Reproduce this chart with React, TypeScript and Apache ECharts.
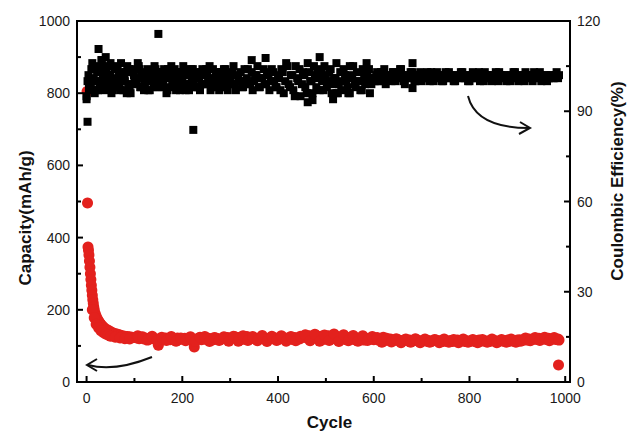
import React, { useEffect, useRef } from "react";
import * as echarts from "echarts";

// ---- Axis ranges and ticks ----
const xMin = -20;
const xMax = 1010;
const capMin = 0;
const capMax = 1000;
const ceMin = 0;
const ceMax = 120;
const xMajorTicks = [0, 200, 400, 600, 800, 1000];
const xMinorTicks = [100, 300, 500, 700, 900];
const capMajorTicks = [0, 200, 400, 600, 800, 1000];
const capMinorTicks = [100, 300, 500, 700, 900];
const ceMajorTicks = [0, 30, 60, 90, 120];
const ceMinorTicks = [15, 45, 75, 105];

// ---- Capacity (mAh/g) ----
const capEarlyCycles = [1, 2, 3, 4, 5, 6, 7, 8, 9, 10, 11, 12, 13, 14, 15, 16, 18, 20, 22, 24, 26, 28, 30, 33, 36, 40, 44, 48, 52, 56, 60, 65, 70, 75, 80, 85, 90, 95, 100];
const capEarly = [805, 496, 374, 365, 352, 335, 318, 300, 284, 268, 254, 240, 228, 218, 208, 200, 190, 182, 176, 171, 167, 163, 159, 155, 151, 147, 144, 141, 138, 136, 134, 132, 130, 128, 127, 126, 125, 124, 123];
const capEarly2Cycles = [12, 16, 20, 25, 30, 35, 40, 45, 50, 60, 70, 80, 90];
const capEarly2 = [200, 178, 160, 150, 142, 137, 133, 130, 127, 124, 122, 120, 119];
// every 5 cycles from cycle 105 to 985
const capLateStart = 105;
const capLateStep = 5;
const capLate = [
  122, 120, 124, 119, 121, 118, 123, 120, 119, 102, 121, 118, 122, 120, 117, 121, 119, 122, 118, 120,
  121, 118, 120, 116, 97, 119, 122, 117, 120, 118, 121, 119, 117, 122, 120, 118, 121, 119, 123, 120,
  122, 125, 120, 124, 118, 121, 126, 119, 123, 120, 117, 122, 124, 119, 121, 118, 123, 120, 122, 117, 121, 124, 119, 122, 120, 118, 123, 121, 119, 124,
  126, 122, 128, 120, 125, 129, 121, 127, 118, 124, 128, 122, 126, 119, 125, 121, 127, 118, 123, 120, 126, 117, 122, 119, 124, 116, 121, 118, 120, 117,
  120, 116, 118, 124, 115, 117, 119, 114, 116, 118, 113, 115, 117, 114, 116, 113, 115, 117, 112, 114, 116, 113, 115, 112, 114, 116, 113, 115, 112, 114,
  113, 115, 112, 114, 116, 113, 115, 112, 114, 113, 115, 112, 114, 116, 113, 115, 112, 114, 113, 115, 114, 112, 115, 113, 114, 116, 113, 115, 114, 116,
  117, 115, 118, 116, 119, 117, 120, 118, 121, 119, 120, 118, 121, 119, 120, 118, 119,
];
// every 10 cycles from cycle 107 to 987
const capLate2Start = 107;
const capLate2Step = 10;
const capLate2 = [
  128, 125, 116, 127, 114, 124, 115, 126, 113, 122,
  114, 125, 113, 124, 126, 112, 123, 115, 125, 113,
  127, 113, 128, 115, 126, 114, 129, 112, 127, 115, 128, 113, 126, 114, 127,
  131, 114, 132, 113, 130, 115, 133, 112, 131, 114, 129, 113, 128, 115, 126,
  123, 110, 121, 111, 120, 109, 119, 110, 120, 109, 119, 110, 118, 109, 119, 110, 118, 109, 119, 110, 118, 109, 118, 110, 119, 109, 118, 110, 119, 110,
  113, 122, 114, 123, 115, 124, 114, 123, 116,
];
const capOutliers = [[986, 47]];

// ---- Coulombic efficiency (%) ----
const ceAStart = 0;
const ceAStep = 5;
const ceA = [
  95, 99, 104, 101, 97, 105, 100, 103, 98, 102, 106, 99, 101, 104, 97, 102, 100, 105, 98, 103, 101, 99, 104, 102, 97, 101, 103, 100, 98, 102, 101,
  103, 99, 101, 104, 98, 102, 100, 103, 97, 101, 104, 99, 102, 100, 98, 103, 101, 99, 102, 104, 100, 98, 101, 103, 99, 102, 100, 104, 97, 101, 103, 99, 102, 100, 98, 104, 101, 99, 103, 100, 102, 98, 101, 104, 99, 102, 100, 103, 98, 101,
  97, 103, 100, 105, 98, 102, 95, 101, 104, 99, 102, 96, 103, 100, 105, 98, 101, 103, 97, 102, 100, 104, 99, 101, 96, 103, 100, 102, 98, 105, 101, 99, 103, 100, 97, 102, 101, 104, 99, 101,
  102, 100, 103, 101, 99, 102, 101, 103, 100, 102, 104, 101, 99, 102, 101, 103, 100, 102, 101, 100,
  101, 102, 101, 103, 100, 102, 101, 102, 100, 103, 101, 102, 101, 100, 102, 101, 103, 101, 102, 100, 101, 102, 101, 103, 101, 100, 102, 101, 102, 101, 103, 100, 102, 101, 102, 101, 100, 102, 103, 101, 102, 101, 100, 102, 101, 102, 103, 101, 102, 100, 101, 102, 101, 102, 101, 102, 101,
];
const ceBStart = 2;
const ceBStep = 5;
const ceB = [
  100, 97, 106, 96, 103, 99, 107, 97, 104, 100, 96, 105, 98, 102, 106, 97, 103, 99, 96, 104, 100, 106, 98, 102, 99, 104, 97, 101, 105, 99, 103,
  98, 104, 96, 101, 105, 99, 97, 103, 100, 105, 97, 102, 99, 104, 98, 101, 97, 104, 99, 102, 105, 98, 100, 103, 97, 101, 104, 98, 102, 99, 105, 97, 101, 103, 98, 100, 104, 99, 97, 102, 105, 98, 101, 99, 103, 97, 104, 100, 98, 102,
  104, 96, 106, 99, 102, 97, 105, 100, 95, 103, 98, 106, 100, 96, 102, 104, 97, 100, 105, 98, 103, 96, 101, 106, 99, 97, 104, 100, 96, 102, 105, 98, 100, 97, 104, 99, 103, 96, 101, 100,
];
const ceCStart = 602;
const ceCStep = 5;
const ceC = [
  101, 103, 100, 102, 104, 101, 102, 100, 103, 101, 102, 104, 100, 102, 101, 103, 102, 100, 101, 103,
  102, 101, 103, 100, 102, 101, 103, 102, 100, 101, 102, 103, 101, 100, 102, 101, 103, 102, 101, 100,
  102, 103, 101, 102, 100, 101, 103, 102, 101, 100, 102, 101, 103, 101, 102, 100, 101, 102, 103, 101,
  100, 102, 101, 103, 102, 101, 100, 102, 101, 103, 101, 102, 100, 101, 102, 101, 103, 102,
];
const ceDStart = 4;
const ceDStep = 5;
const ceD = [
  102, 98, 104, 100, 97, 103, 101, 105, 99, 102, 97, 104, 100, 98, 103, 101, 96, 104, 99, 102,
  100, 105, 98, 101, 103, 97, 102, 100, 104, 98, 101, 99, 103, 97, 102, 100, 104, 98, 101, 103,
  99, 102, 97, 104, 100, 101, 98, 103, 99, 102, 100, 97, 104, 101, 99, 103, 98, 102, 100, 101,
];
const ceOutliers = [
  [0, 94], [2, 86.5], [5, 97], [25, 110.7], [31, 107], [40, 108], [150, 115.7], [223, 83.8], [345, 107], [374, 107.7],
  [462, 93], [472, 93.7], [487, 108], [515, 94], [522, 96], [550, 96], [585, 106], [681, 106], [681, 97.7],
];

const FONT = "'Liberation Sans', Arial, Helvetica, sans-serif";
const W = 628;
const H = 432;
const GRID = { left: 77, right: 58, top: 21, bottom: 50 };

export default function App() {
  const ref = useRef<HTMLDivElement>(null);

  useEffect(() => {
    if (!ref.current) return;
    const chart = echarts.init(ref.current, null, { renderer: "svg" });

    const capData: number[][] = [];
    capEarlyCycles.forEach((c, i) => capData.push([c, capEarly[i]]));
    capEarly2Cycles.forEach((c, i) => capData.push([c, capEarly2[i]]));
    capLate.forEach((v, i) => capData.push([capLateStart + i * capLateStep, v]));
    capLate2.forEach((v, i) => capData.push([capLate2Start + i * capLate2Step, v]));
    capOutliers.forEach((p) => capData.push(p));

    const ceData: number[][] = [];
    ceA.forEach((v, i) => ceData.push([ceAStart + i * ceAStep, v]));
    ceB.forEach((v, i) => ceData.push([ceBStart + i * ceBStep, v]));
    ceC.forEach((v, i) => ceData.push([ceCStart + i * ceCStep, v]));
    ceD.forEach((v, i) => ceData.push([ceDStart + i * ceDStep, v]));
    ceOutliers.forEach((p) => ceData.push(p));

    const labelStyle = { color: "#1a1a1a", fontSize: 14, fontFamily: FONT, formatter: (v: number) => String(v) };
    const hidden = { show: false };

    chart.setOption({
      animation: false,
      grid: { ...GRID, containLabel: false, outerBoundsMode: "none" },
      xAxis: [
        {
          type: "value",
          min: xMin,
          max: xMax,
          position: "bottom",
          axisLine: hidden,
          axisTick: hidden,
          axisLabel: { ...labelStyle, margin: 9, customValues: xMajorTicks },
          splitLine: hidden,
        },
      ],
      yAxis: [
        {
          type: "value",
          min: capMin,
          max: capMax,
          interval: 200,
          position: "left",
          axisLine: hidden,
          axisTick: hidden,
          axisLabel: { ...labelStyle, margin: 7 },
          splitLine: hidden,
        },
        {
          type: "value",
          min: ceMin,
          max: ceMax,
          interval: 30,
          position: "right",
          axisLine: hidden,
          axisTick: hidden,
          axisLabel: { ...labelStyle, margin: 7 },
          splitLine: hidden,
        },
      ],
      series: [
        {
          type: "scatter",
          name: "Capacity",
          xAxisIndex: 0,
          yAxisIndex: 0,
          symbol: "circle",
          symbolSize: 11,
          itemStyle: { color: "#e3211d", opacity: 1 },
          data: capData,
          z: 2,
        },
        {
          type: "scatter",
          name: "Coulombic Efficiency",
          xAxisIndex: 0,
          yAxisIndex: 1,
          symbol: "rect",
          symbolSize: 8,
          itemStyle: { color: "#000", opacity: 1 },
          data: ceData,
          z: 3,
        },
      ],
    });

    // grid box in pixels
    const left = GRID.left;
    const right = W - GRID.right;
    const top = GRID.top;
    const bottom = H - GRID.bottom;
    const lin = (v: number, d0: number, d1: number, r0: number, r1: number) => r0 + ((v - d0) / (d1 - d0)) * (r1 - r0);
    const safe = (f: () => any, fb: number) => {
      try {
        const r = f();
        const n = Array.isArray(r) ? r[0] : r;
        return typeof n === "number" && isFinite(n) ? n : fb;
      } catch (e) {
        return fb;
      }
    };
    const px = (v: number) => safe(() => chart.convertToPixel({ xAxisIndex: 0 } as any, v), lin(v, xMin, xMax, left, right));
    const pyL = (v: number) => safe(() => chart.convertToPixel({ yAxisIndex: 0 } as any, v), lin(v, capMin, capMax, bottom, top));
    const pyR = (v: number) => safe(() => chart.convertToPixel({ yAxisIndex: 1 } as any, v), lin(v, ceMin, ceMax, bottom, top));

    const rect = (x: number, y: number, w: number, h: number) => ({
      type: "rect",
      silent: true,
      z: 100,
      shape: { x, y, width: w, height: h },
      style: { fill: "#000" },
    });

    const els: any[] = [
      rect(left - 1, top - 1, right - left + 2, 2),
      rect(left - 1, bottom - 1, right - left + 2, 2),
      rect(left - 1, top - 1, 2, bottom - top + 2),
      rect(right - 1, top - 1, 2, bottom - top + 2),
    ];
    xMajorTicks.forEach((v) => els.push(rect(px(v) - 1, bottom - 6, 2, 6)));
    xMinorTicks.forEach((v) => els.push(rect(px(v) - 1, bottom - 4, 2, 4)));
    capMajorTicks.forEach((v) => els.push(rect(left, pyL(v) - 1, 6, 2)));
    capMinorTicks.forEach((v) => els.push(rect(left, pyL(v) - 1, 4, 2)));
    ceMajorTicks.forEach((v) => els.push(rect(right - 6, pyR(v) - 1, 6, 2)));
    ceMinorTicks.forEach((v) => els.push(rect(right - 4, pyR(v) - 1, 4, 2)));

    const nameStyle = { fill: "#111", fontSize: 17, fontWeight: "bold", fontFamily: FONT, align: "center", verticalAlign: "middle" };
    els.push(
      { type: "text", x: 25, y: 218, rotation: Math.PI / 2, silent: true, style: { ...nameStyle, text: "Capacity(mAh/g)" } },
      { type: "text", x: 617, y: 181, rotation: Math.PI / 2, silent: true, style: { ...nameStyle, text: "Coulombic Efficiency(%)" } },
      { type: "text", x: (left + right) / 2 + 6, y: 422, silent: true, style: { ...nameStyle, text: "Cycle" } },
      {
        type: "bezierCurve",
        silent: true,
        z: 101,
        shape: { x1: 152, y1: 357, cpx1: 115, cpy1: 372, x2: 88, y2: 365 },
        style: { stroke: "#111", lineWidth: 2, fill: "none" },
      },
      {
        type: "polyline",
        silent: true,
        z: 101,
        shape: { points: [[97, 359], [87, 365], [97, 371]] },
        style: { stroke: "#111", lineWidth: 2, fill: "none" },
      },
      {
        type: "bezierCurve",
        silent: true,
        z: 101,
        shape: { x1: 468, y1: 96, cpx1: 476, cpy1: 128, x2: 529, y2: 128 },
        style: { stroke: "#111", lineWidth: 2, fill: "none" },
      },
      {
        type: "polyline",
        silent: true,
        z: 101,
        shape: { points: [[520, 122], [530, 128], [519, 134]] },
        style: { stroke: "#111", lineWidth: 2, fill: "none" },
      }
    );

    chart.setOption({ graphic: els });

    return () => chart.dispose();
  }, []);

  return (
    <div
      ref={ref}
      style={{ position: "fixed", left: 0, top: 0, width: W, height: H, background: "#fff" }}
    />
  );
}
